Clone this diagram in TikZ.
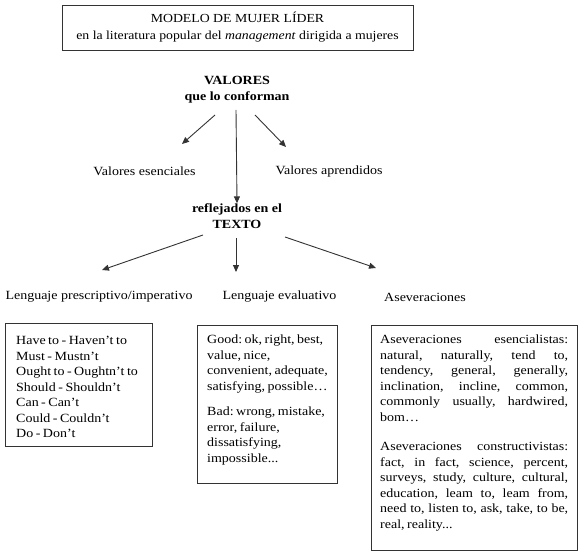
\documentclass[tikz,border=0pt]{standalone}
\usepackage{fontspec}
\setmainfont{Liberation Serif}[FakeStretch=1.12]
\usetikzlibrary{arrows.meta}
\begin{document}
\begin{tikzpicture}[x=1pt,y=-1pt,
  every node/.style={inner sep=0pt, font=\fontsize{12.5}{15.5}\selectfont},
  lbl/.style={align=center},
  hd/.style={align=center, font=\fontsize{12.5}{16}\selectfont\bfseries},
  arr/.style={-{Triangle[length=7pt,width=6pt]}, line width=0.9pt, draw=black!80},
  boxr/.style={draw=black!80, line width=0.9pt, anchor=north west},
  btext/.style={anchor=north west, align=left},
  titlebox/.style={draw=black!80, line width=0.9pt, minimum width=351pt, minimum height=45pt, align=center, font=\fontsize{12.3}{17}\selectfont}]
\useasboundingbox (0,0) rectangle (585,556);

\node[titlebox] (title) at (237.5,27.5) {MODELO DE MUJER LÍDER\\en la literatura popular del \textit{management} dirigida a mujeres};

\node[hd] (valores) at (237,90) {VALORES\\que lo conforman};
\node[lbl] (esen) at (144.5,171) {Valores esenciales};
\node[lbl] (apren) at (329,171) {Valores aprendidos};
\node[hd] (texto) at (237,216) {reflejados en el\\TEXTO};

\node[lbl] (presc) at (99,297) {Lenguaje prescriptivo/imperativo};
\node[lbl] (eval) at (279.5,297) {Lenguaje evaluativo};
\node[lbl, anchor=west] (asev) at (384,297) {Aseveraciones};

\coordinate (v1) at (215,115);
\coordinate (v2) at (255,115);
\coordinate (v3) at (236,110);
\coordinate (t1) at (203,235);
\coordinate (t2) at (236,238);
\coordinate (t3) at (285,237);
\coordinate (e1) at (182,144);
\coordinate (a1) at (286,147);
\coordinate (p1) at (102,270);
\coordinate (ev1) at (236,272);
\coordinate (as1) at (376,268);
\draw[arr] (v1) -- (e1);
\draw[arr] (v2) -- (a1);
\draw[arr] (v3) -- (texto.north);
\draw[arr] (t1) -- (p1);
\draw[arr] (t2) -- (ev1);
\draw[arr] (t3) -- (as1);

\node[boxr, minimum width=147pt, minimum height=123pt] (b1) at (5,323) {};
\node[btext, text width=135pt] (b1t) at (16,336) {\frenchspacing\spaceskip=0.2em
Have to - Haven't to\\
Must - Mustn't\\
Ought to - Oughtn't to\\
Should - Shouldn't\\
Can - Can't\\
Could - Couldn't\\
Do - Don't};

\node[boxr, minimum width=140pt, minimum height=158pt] (b2) at (197,325) {};
\node[btext, text width=130pt] (b2t) at (207,335) {\frenchspacing\spaceskip=0.2em
Good: ok, right, best,\\
value, nice,\\
convenient, adequate,\\
satisfying, possible\ldots\par\vspace{10pt}
Bad: wrong, mistake,\\
error, failure,\\
dissatisfying,\\
impossible...};

\node[boxr, minimum width=206pt, minimum height=225pt] (b3) at (371,325) {};
\node[btext, text width=188pt, align=justify] (b3t) at (380,335) {\frenchspacing\spaceskip=0.2em plus 3em minus 0.15em\hbadness=10000 \hfuzz=20pt
Aseveraciones esencialistas:\linebreak
natural, naturally, tend to,\linebreak
tendency, general, generally,\linebreak
inclination, incline, common,\linebreak
commonly usually, hardwired,\linebreak
bom\ldots\par\vspace{14pt}
Aseveraciones constructivistas:\linebreak
fact, in fact, science, percent,\linebreak
surveys, study, culture, cultural,\linebreak
education, leam to, leam from,\linebreak
need to, listen to, ask, take, to be,\linebreak
real, reality...};
\end{tikzpicture}
\end{document}
